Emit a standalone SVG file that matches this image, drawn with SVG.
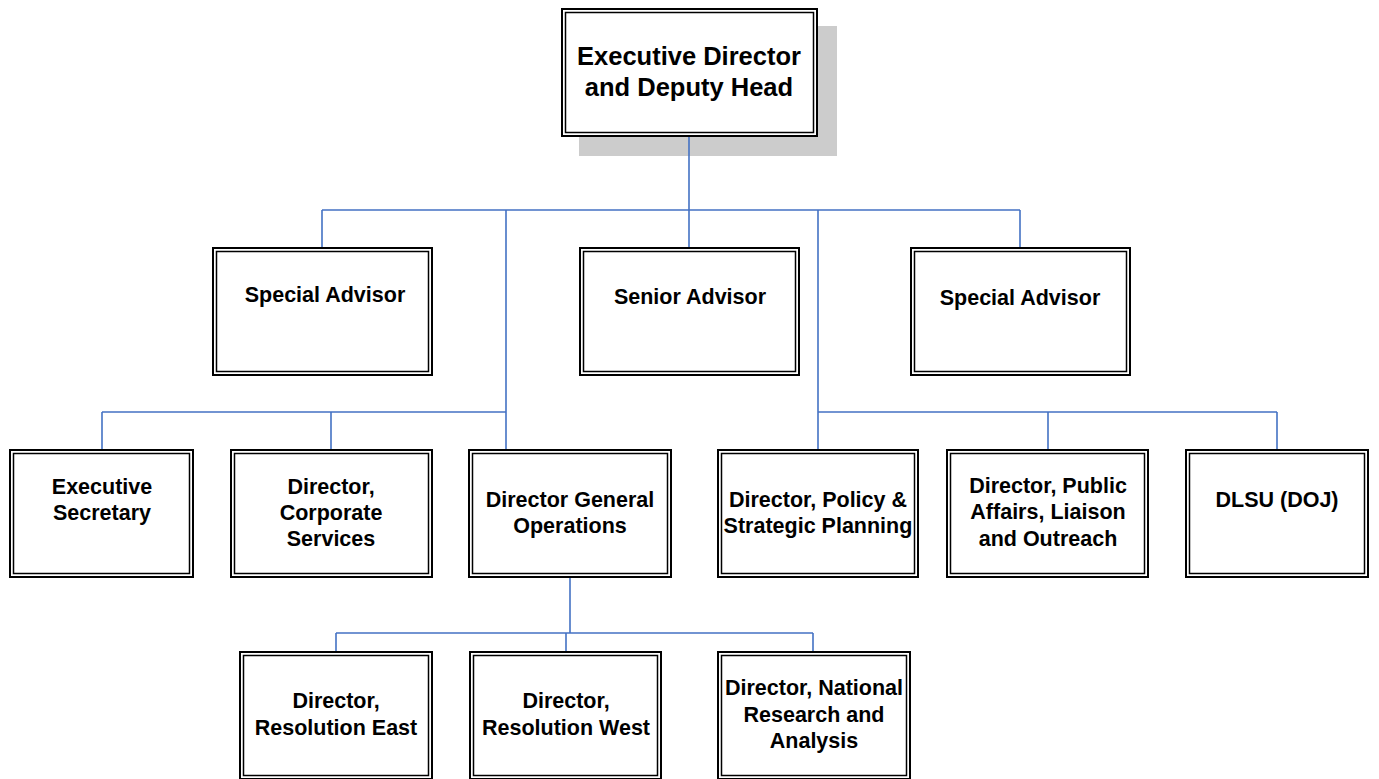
<svg xmlns="http://www.w3.org/2000/svg" width="1379" height="779" viewBox="0 0 1379 779">
<style>
.o{fill:#fff;stroke:#000;stroke-width:2}
.i{fill:none;stroke:#000;stroke-width:1.5}
.t{font-family:"Liberation Sans",Arial,sans-serif;font-weight:bold;font-size:21.5px;fill:#000;text-anchor:middle}
.tt{font-size:25.5px}
.c{fill:none;stroke:#4472C4;stroke-width:1.6}
</style>
<rect width="1379" height="779" fill="#fff"/>
<g id="executive-director">
<rect x="579" y="26" width="258" height="130" fill="#cccccc"/>
<rect class="o" x="562" y="9" width="255" height="127"/>
<rect class="i" x="565.5" y="12.5" width="248" height="120"/>
<text class="t tt" x="689" y="65">Executive Director</text>
<text class="t tt" x="689" y="96">and Deputy Head</text>
</g>
<g id="special-advisor-1">
<rect class="o" x="213" y="248" width="219" height="127"/>
<rect class="i" x="216.5" y="251.5" width="212" height="120"/>
<text class="t" x="325" y="302">Special Advisor</text>
</g>
<g id="senior-advisor">
<rect class="o" x="580" y="248" width="219" height="127"/>
<rect class="i" x="583.5" y="251.5" width="212" height="120"/>
<text class="t" x="690" y="304">Senior Advisor</text>
</g>
<g id="special-advisor-2">
<rect class="o" x="911" y="248" width="219" height="127"/>
<rect class="i" x="914.5" y="251.5" width="212" height="120"/>
<text class="t" x="1020" y="305">Special Advisor</text>
</g>
<g id="executive-secretary">
<rect class="o" x="10" y="450" width="183" height="127"/>
<rect class="i" x="13.5" y="453.5" width="176" height="120"/>
<text class="t" x="102" y="494">Executive</text>
<text class="t" x="102" y="520">Secretary</text>
</g>
<g id="corporate-services">
<rect class="o" x="231" y="450" width="201" height="127"/>
<rect class="i" x="234.5" y="453.5" width="194" height="120"/>
<text class="t" x="331" y="494">Director,</text>
<text class="t" x="331" y="520">Corporate</text>
<text class="t" x="331" y="546">Services</text>
</g>
<g id="dg-operations">
<rect class="o" x="469" y="450" width="202" height="127"/>
<rect class="i" x="472.5" y="453.5" width="195" height="120"/>
<text class="t" x="570" y="507">Director General</text>
<text class="t" x="570" y="533">Operations</text>
</g>
<g id="policy-planning">
<rect class="o" x="718" y="450" width="200" height="127"/>
<rect class="i" x="721.5" y="453.5" width="193" height="120"/>
<text class="t" x="818" y="507">Director, Policy &amp;</text>
<text class="t" x="818" y="533">Strategic Planning</text>
</g>
<g id="public-affairs">
<rect class="o" x="947" y="450" width="201" height="127"/>
<rect class="i" x="950.5" y="453.5" width="194" height="120"/>
<text class="t" x="1048" y="493">Director, Public</text>
<text class="t" x="1048" y="519">Affairs, Liaison</text>
<text class="t" x="1048" y="546">and Outreach</text>
</g>
<g id="dlsu">
<rect class="o" x="1186" y="450" width="182" height="127"/>
<rect class="i" x="1189.5" y="453.5" width="175" height="120"/>
<text class="t" x="1277" y="507">DLSU (DOJ)</text>
</g>
<g id="resolution-east">
<rect class="o" x="240" y="652" width="192" height="127"/>
<rect class="i" x="243.5" y="655.5" width="185" height="120"/>
<text class="t" x="336" y="708">Director,</text>
<text class="t" x="336" y="735">Resolution East</text>
</g>
<g id="resolution-west">
<rect class="o" x="470" y="652" width="191" height="127"/>
<rect class="i" x="473.5" y="655.5" width="184" height="120"/>
<text class="t" x="566" y="708">Director,</text>
<text class="t" x="566" y="735">Resolution West</text>
</g>
<g id="national-research">
<rect class="o" x="718" y="652" width="192" height="127"/>
<rect class="i" x="721.5" y="655.5" width="185" height="120"/>
<text class="t" x="814" y="695">Director, National</text>
<text class="t" x="814" y="722">Research and</text>
<text class="t" x="814" y="748">Analysis</text>
</g>
<g id="connectors">
<path class="c" d="M689,137V210M322,210H1020M322,210V247M506,210V449M689,210V247M818,210V449M1020,210V247"/>
<path class="c" d="M102,412H506M102,412V449M331,412V449M818,412H1277M1048,412V449M1277,412V449"/>
<path class="c" d="M570,578V633M336,633H813M336,633V651M566,633V651M813,633V651"/>
</g>
</svg>
